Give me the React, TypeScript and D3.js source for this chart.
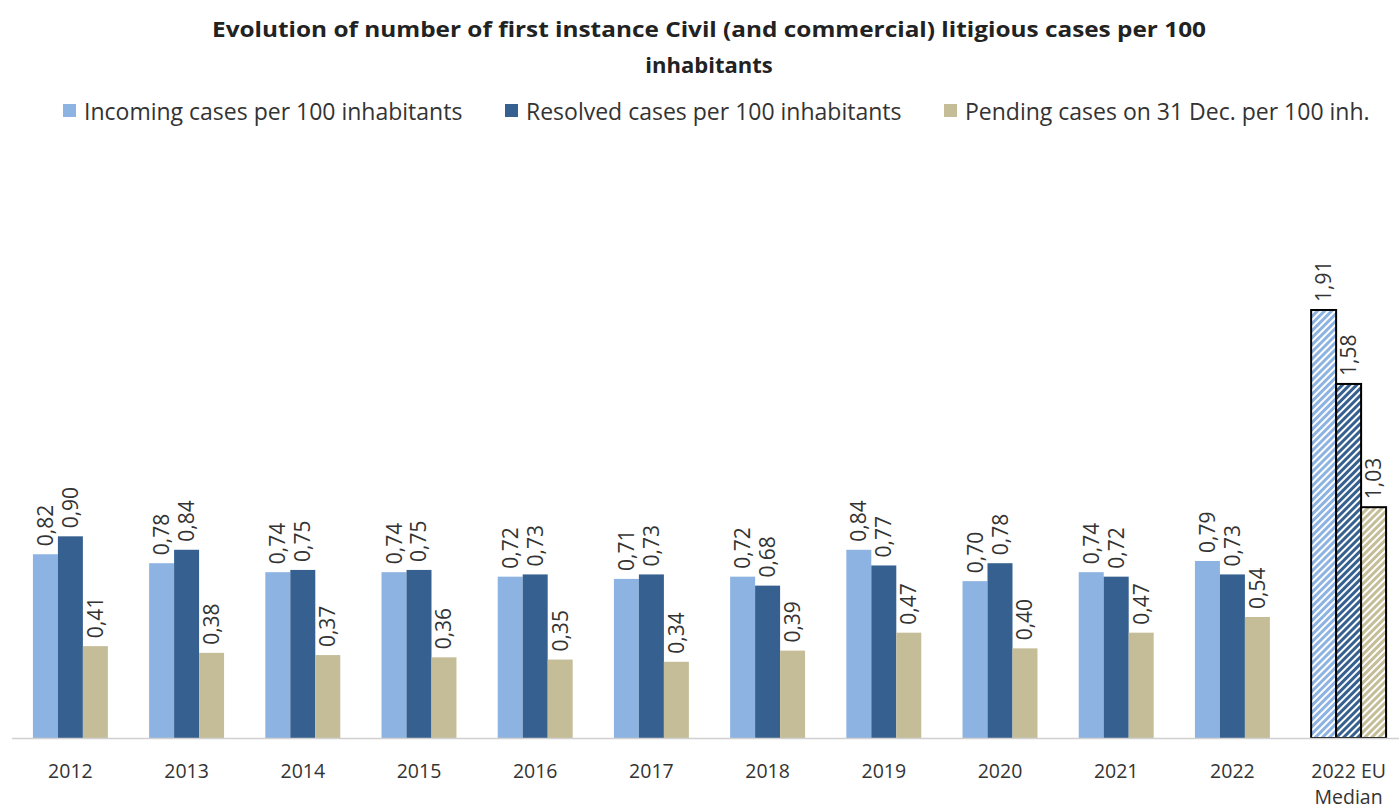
import React from "react";
import * as d3 from "d3";

const categories = ["2012","2013","2014","2015","2016","2017","2018","2019","2020","2021","2022","2022 EU|Median"];
const incoming = [0.82,0.78,0.74,0.74,0.72,0.71,0.72,0.84,0.70,0.74,0.79,1.91];
const resolved = [0.90,0.84,0.75,0.75,0.73,0.73,0.68,0.77,0.78,0.72,0.73,1.58];
const pending = [0.41,0.38,0.37,0.36,0.35,0.34,0.39,0.47,0.40,0.47,0.54,1.03];
const seriesNames = ["Incoming cases per 100 inhabitants","Resolved cases per 100 inhabitants","Pending cases on 31 Dec. per 100 inh."];
const colors = ["#8DB3E2","#35608F","#C4BD97"];

const W = 1399, H = 805;
const font = "'Open Sans', 'Noto Sans', sans-serif";

export default function App() {
  const x = d3.scaleBand<string>().domain(categories).range([12, 1407]).paddingInner(0.355).paddingOuter(0.18);
  const y = d3.scaleLinear().domain([0, 1.91]).range([738, 310]);
  const inner = d3.scaleBand<number>().domain([0,1,2]).range([0, x.bandwidth()]);
  const series = [incoming, resolved, pending];
  const fmt = (v: number) => v.toFixed(2).replace(".", ",");
  const last = categories.length - 1;
  const legendX = [63, 505, 944];

  return (
    <svg width={W} height={H} style={{ position: "absolute", left: 0, top: 0, background: "#fff" }} fontFamily={font}>
      <defs>
        {colors.map((c, i) => (
          <pattern key={i} id={`hatch${i}`} patternUnits="userSpaceOnUse" width={5} height={5} patternTransform="rotate(45)">
            <rect width={5} height={5} fill="#fff" />
            <rect width={3} height={5} fill={c} />
          </pattern>
        ))}
      </defs>
      <text x={709} y={37} textAnchor="middle" fontSize={22} fontWeight="bold" fill="#222" textLength={994} lengthAdjust="spacingAndGlyphs">
        Evolution of number of first instance Civil (and commercial) litigious cases per 100
      </text>
      <text x={709} y={73} textAnchor="middle" fontSize={22} fontWeight="bold" fill="#222">inhabitants</text>
      {seriesNames.map((n, i) => (
        <g key={n}>
          <rect x={legendX[i]} y={104} width={13} height={13} fill={colors[i]} />
          <text x={legendX[i] + 21} y={120} fontSize={23} fill="#333">{n}</text>
        </g>
      ))}
      {categories.map((c, ci) => (
        <g key={c}>
          {series.map((s, si) => {
            const bx = (x(c) as number) + (inner(si) as number);
            const bw = inner.bandwidth();
            const top = y(s[ci]);
            const isLast = ci === last;
            return (
              <g key={si}>
                <rect x={bx} y={top} width={bw} height={y(0) - top}
                  fill={isLast ? `url(#hatch${si})` : colors[si]}
                  stroke={isLast ? "#000" : "none"} strokeWidth={2} />
                <text transform={`translate(${bx + bw / 2 + 7.5},${top - 8}) rotate(-90)`} fontSize={21} fill="#333">{fmt(s[ci])}</text>
              </g>
            );
          })}
          {c.split("|").map((line, li) => (
            <text key={li} x={(x(c) as number) + x.bandwidth() / 2} y={778 + li * 26} textAnchor="middle" fontSize={19.5} fill="#333">{line}</text>
          ))}
        </g>
      ))}
      <line x1={12} x2={1399} y1={738.5} y2={738.5} stroke="#d0d0d0" strokeWidth={1.5} />
    </svg>
  );
}
